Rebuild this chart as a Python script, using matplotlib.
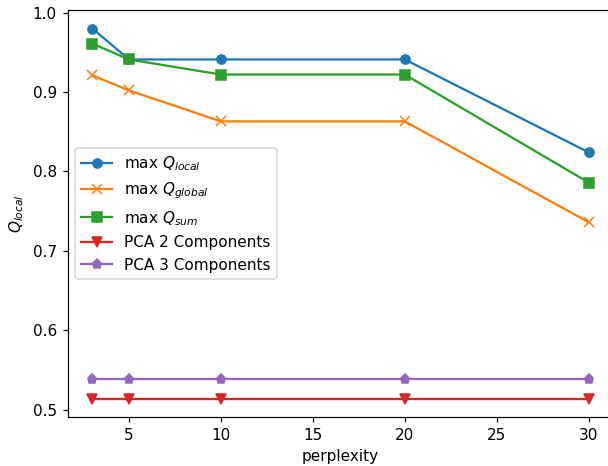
import matplotlib
matplotlib.use("Agg")
import matplotlib.pyplot as plt

perplexity = [3, 5, 10, 20, 30]
max_q_local = [0.980, 0.941, 0.941, 0.941, 0.824]
max_q_global = [0.921, 0.902, 0.863, 0.863, 0.736]
max_q_sum = [0.961, 0.941, 0.922, 0.922, 0.786]
pca_2 = [0.514, 0.514, 0.514, 0.514, 0.514]
pca_3 = [0.539, 0.539, 0.539, 0.539, 0.539]

dpi = 110
fig = plt.figure(figsize=(608 / dpi, 466 / dpi), dpi=dpi)
# the original picture is cut off on the right, so the axes run past the figure edge
ax = fig.add_axes([67.5 / 608, 49 / 466, 546 / 608, 407 / 466])

ax.plot(perplexity, max_q_local, marker='o', label=r'max $Q_{local}$')
ax.plot(perplexity, max_q_global, marker='x', label=r'max $Q_{global}$')
ax.plot(perplexity, max_q_sum, marker='s', label=r'max $Q_{sum}$')
ax.plot(perplexity, pca_2, marker='v', label='PCA 2 Components')
ax.plot(perplexity, pca_3, marker='p', label='PCA 3 Components')

ax.set_xlabel('perplexity')
ax.set_ylabel(r'$Q_{local}$')
ax.legend(loc='center left')
# right spine lies outside the cropped picture
ax.spines['right'].set_visible(False)

fig.savefig('out.png', dpi=dpi)
